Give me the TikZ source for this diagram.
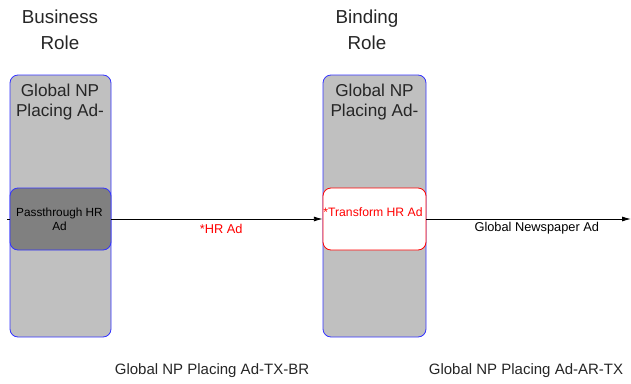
\documentclass[tikz,border=0pt]{standalone}
\usepackage{fontspec}
\setmainfont{Liberation Sans}
\usetikzlibrary{arrows.meta}
\definecolor{colgray}{HTML}{C0C0C0}
\definecolor{darkbox}{HTML}{808080}
\definecolor{bblue}{HTML}{3333FF}
\definecolor{rred}{HTML}{FF0000}
\begin{document}
\begin{tikzpicture}[x=1pt,y=-1pt,
  column/.style={draw=bblue,fill=colgray,rounded corners=8pt,line width=0.8pt},
  inner/.style={rounded corners=8pt,line width=0.8pt},
  title/.style={font=\fontsize{18.8}{26}\selectfont,align=center,text=black!85},
  coltext/.style={font=\fontsize{17.2}{20}\selectfont,align=center,text=black!85},
  small/.style={font=\fontsize{15}{17}\selectfont,text=black!85},
  lbl/.style={font=\fontsize{12.8}{14}\selectfont},
  conn/.style={line width=0.9pt,-{Latex[length=9pt,width=5pt]}}]
\useasboundingbox (0,0) rectangle (631,383);
% titles
\node[title] (t1) at (60,30) {Business\\Role};
\node[title] (t2) at (367,30) {Binding\\Role};
% columns
\draw[column] (10,75) rectangle (111,337);
\draw[column] (323,75) rectangle (426,337);
\node[coltext] (c1) at (60,102) {Global NP\\Placing Ad-};
\node[coltext] (c2) at (374.5,102) {Global NP\\Placing Ad-};
% inner boxes
\draw[inner,draw=bblue,fill=darkbox] (10,188) rectangle (111,250);
\node[inner sep=0pt,minimum width=101pt,minimum height=62pt] (pb) at (60.5,219) {};
\node[align=center,text=black,font=\fontsize{11.8}{14}\selectfont] (pbt) at (59.5,219) {Passthrough HR\\Ad};
\draw[inner,draw=rred,fill=white] (323,188) rectangle (426,250);
\node[inner sep=0pt,minimum width=103pt,minimum height=62pt] (tb) at (374.5,219) {};
\node[font=\fontsize{12.2}{14}\selectfont,text=rred] (tbt) at (373,212.5) {*Transform HR Ad};
% connectors
\coordinate (start) at (7,219);
\coordinate (end) at (631,219);
\draw[line width=0.9pt] (start) -- (pb.west);
\draw[conn] (pb.east) -- (tb.west) node[pos=0.52,yshift=-9.5pt,lbl,text=rred] (l1) {*HR Ad};
\draw[conn] (tb.east) -- (end) node[pos=0.54,yshift=-9.5pt,lbl] (l2) {Global Newspaper Ad};
% bottom labels
\node[small] (b1) at (212,371) {Global NP Placing Ad-TX-BR};
\node[small] (b2) at (526,371) {Global NP Placing Ad-AR-TX};
\end{tikzpicture}
\end{document}
